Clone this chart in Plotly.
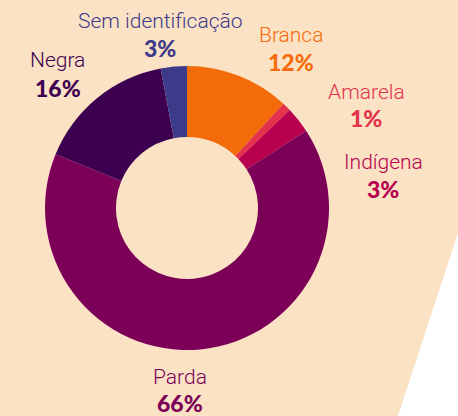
import plotly.graph_objects as go

BG = "#FBE2C4"

categories = ["Branca", "Amarela", "Indígena", "Parda", "Negra", "Sem identificação"]
values = [12, 1, 3, 66, 16, 3]
colors = ["#F46C0A", "#E3334B", "#B8004F", "#7C0057", "#3D0050", "#3E3A8A"]

# label centres in pixels (x, y from top) for name line / percent line
label_pos = {
    "Branca": (291, 35, 62),
    "Amarela": (366, 92, 118),
    "Indígena": (383, 162, 189),
    "Parda": (180, 377, 403),
    "Negra": (58, 60, 88),
    "Sem identificação": (160, 21, 48),
}

W, H = 458, 416

fig = go.Figure(go.Pie(
    labels=categories,
    values=values,
    sort=False,
    direction="clockwise",
    rotation=0,
    hole=0.5,
    marker=dict(colors=colors, line=dict(width=0)),
    textinfo="none",
    hoverinfo="skip",
    domain=dict(x=[45 / W, 329 / W], y=[1 - 350 / H, 1 - 66 / H]),
))

annotations = []
for cat, val, col in zip(categories, values, colors):
    x, y1, y2 = label_pos[cat]
    annotations.append(dict(
        x=x / W, y=1 - y1 / H, xref="paper", yref="paper",
        text=cat, showarrow=False, xanchor="center", yanchor="middle",
        font=dict(family="Roboto", size=21, color=col, weight=300),
    ))
    annotations.append(dict(
        x=x / W, y=1 - y2 / H, xref="paper", yref="paper",
        text=f"{val}%", showarrow=False, xanchor="center", yanchor="middle",
        font=dict(family="Lato", size=23, color=col, weight=900),
    ))

fig.update_layout(
    width=W,
    height=H,
    margin=dict(l=0, r=0, t=0, b=0),
    paper_bgcolor=BG,
    plot_bgcolor=BG,
    showlegend=False,
    annotations=annotations,
    shapes=[dict(
        type="path", xref="paper", yref="paper", layer="below",
        path=f"M {458 / W} {1 - 233 / H} L {398 / W} 0 L 1 0 L 1 {1 - 233 / H} Z",
        fillcolor="white", line=dict(width=0),
    )],
)

fig.write_html(
    "out.html",
    config={"displayModeBar": False},
    post_script="document.body.style.margin = '0';",
)
